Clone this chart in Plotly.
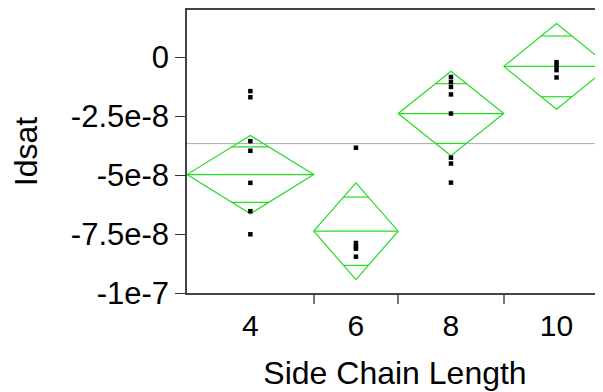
import numpy as np
import plotly.graph_objects as go

groups = ["4", "6", "8", "10"]
counts = [6, 4, 5, 5]
means = [-4.98e-8, -7.38e-8, -2.39e-8, -0.39e-8]
ci_half = [1.66e-8, 2.05e-8, 1.79e-8, 1.82e-8]

idsat_4 = [-1.44e-8, -1.70e-8, -3.56e-8, -3.97e-8, -5.33e-8, -6.53e-8, -7.51e-8]
idsat_6 = [-3.84e-8, -7.88e-8, -8.03e-8, -8.12e-8, -8.46e-8]
idsat_8 = [-0.84e-8, -1.05e-8, -1.26e-8, -1.58e-8, -2.39e-8, -4.26e-8, -4.51e-8, -5.32e-8]
idsat_10 = [-0.21e-8, -0.38e-8, -0.55e-8, -0.86e-8]
points = [idsat_4, idsat_6, idsat_8, idsat_10]

y_ticks = [0, -2.5e-8, -5e-8, -7.5e-8, -1e-7]
y_ticktext = ["0", "-2.5e-8", "-5e-8", "-7.5e-8", "-1e-7"]

green = "#22dd22"
font = "Liberation Sans, Arial, sans-serif"

# group widths proportional to sample size (JMP style)
edges = np.concatenate([[0], np.cumsum(counts)])
centers = (edges[:-1] + edges[1:]) / 2
grand_mean = np.average(means, weights=counts)

fig = go.Figure()

fig.add_trace(go.Scatter(x=[0, edges[-1] + 1], y=[grand_mean, grand_mean], mode="lines",
                         line=dict(color="#aaaaaa", width=1), hoverinfo="skip"))

for i in range(len(groups)):
    l, c, r = edges[i], centers[i], edges[i + 1]
    m, h = means[i], ci_half[i]
    fig.add_trace(go.Scatter(x=[l, c, r, c, l], y=[m, m + h, m, m - h, m], mode="lines",
                             line=dict(color=green, width=1.2)))
    fig.add_trace(go.Scatter(x=[l, r], y=[m, m], mode="lines", line=dict(color=green, width=1.2)))
    # overlap marks
    d = h / np.sqrt(2)
    hw = (r - l) / 2 * (1 - 1 / np.sqrt(2))
    for s in [1, -1]:
        fig.add_trace(go.Scatter(x=[c - hw, c + hw], y=[m + s * d, m + s * d], mode="lines",
                                 line=dict(color=green, width=1.2)))
    fig.add_trace(go.Scatter(x=[c] * len(points[i]), y=points[i], mode="markers",
                             marker=dict(symbol="square", size=4.5, color="black")))

# page body has an 8px margin, so size/margins are shifted to compensate
fig.update_layout(
    width=595, height=384,
    margin=dict(l=179, r=0, t=2, b=99),
    plot_bgcolor="white", paper_bgcolor="white",
    showlegend=False,
    font=dict(family=font, size=30, color="black"),
)
fig.update_xaxes(
    range=[0, 19.7], showgrid=False, zeroline=False,
    showline=True, linecolor="#444", linewidth=1.5, mirror=True,
    tickvals=centers, ticktext=groups, ticks="", ticklabelstandoff=5,
    minor=dict(tickvals=edges[1:-1], ticks="outside", ticklen=9, tickcolor="#777", tickwidth=1.5),
    title=dict(text="Side Chain Length", font=dict(size=32), standoff=21),
)
fig.update_yaxes(
    range=[-1e-7, 2e-8], showgrid=False, zeroline=False,
    showline=True, linecolor="#444", linewidth=1.5,
    tickvals=y_ticks, ticktext=y_ticktext, ticks="outside", ticklen=10, tickcolor="#333",
    tickfont=dict(size=31),
    title=dict(text="Idsat", font=dict(size=32), standoff=30),
)

fig.write_html("out.html")
